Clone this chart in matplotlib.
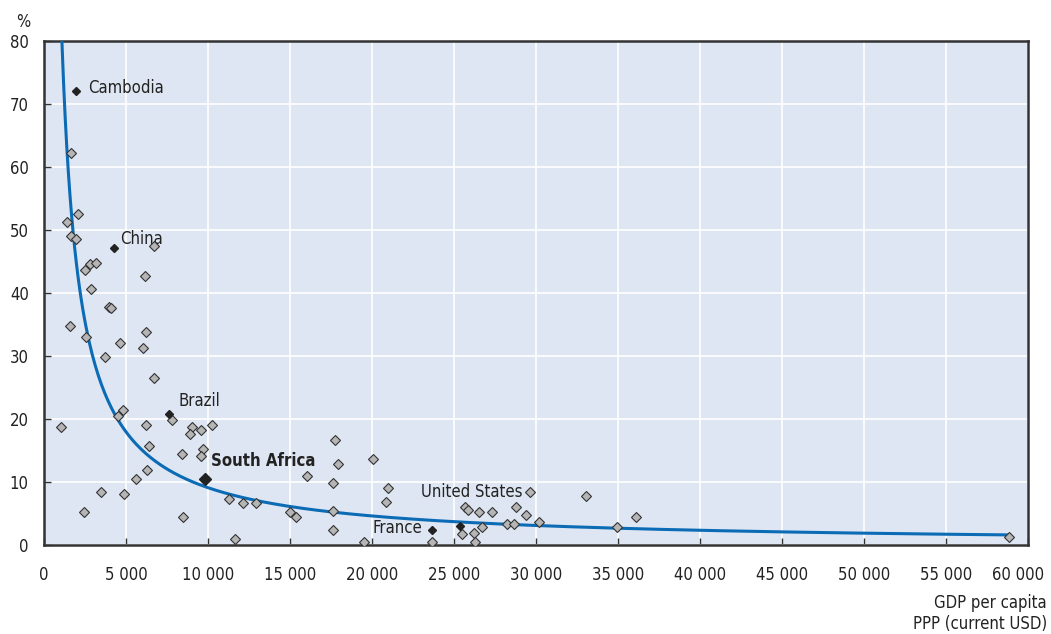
import numpy as np
import matplotlib.pyplot as plt
from matplotlib.transforms import ScaledTranslation

# GDP per capita (PPP, current USD) and share (%) for the other countries
gdp = [1640, 2090, 1393, 1640, 1967, 6690, 2517, 2780, 3147, 6160, 2884,
       3950, 4100, 1600, 2536, 6202, 4655, 6037, 3697, 6709, 7833, 4815,
       4533, 1008, 6245, 9012, 8890, 9543, 10253, 6404, 9685, 8420, 9543,
       6263, 5633, 3471, 4858, 2413, 8481, 11621, 11291, 12128, 12904,
       14982, 15367, 16039, 17731, 17914, 17609, 17627, 17645, 19540,
       20071, 20945, 20823, 23657, 25510, 25693, 25834, 26548, 26200,
       26261, 26713, 27343, 28241, 28648, 28770, 29401, 29623, 30154,
       33026, 34920, 36081, 58855]
share = [62.2, 52.6, 51.2, 49.1, 48.6, 47.4, 43.7, 44.6, 44.7, 42.7, 40.7,
         37.8, 37.6, 34.7, 33.0, 33.8, 32.1, 31.3, 29.8, 26.5, 19.9, 21.4,
         20.4, 18.8, 19.0, 18.7, 17.6, 18.2, 19.1, 15.7, 15.2, 14.5, 14.1,
         11.9, 10.4, 8.4, 8.1, 5.2, 4.4, 0.9, 7.3, 6.7, 6.7,
         5.2, 4.4, 10.9, 16.7, 12.9, 9.9, 5.4, 2.3, 0.4,
         13.6, 9.1, 6.8, 0.5, 1.7, 6.1, 5.6, 5.3, 1.85,
         0.5, 2.9, 5.2, 3.4, 3.4, 6.1, 4.7, 8.4, 3.6,
         7.75, 2.9, 4.5, 1.3]

# highlighted countries
hl_names = ['Cambodia', 'China', 'Brazil', 'United States', 'France']
hl_gdp = [1967, 4247, 7607, 25345, 23634]
hl_share = [72.1, 47.1, 20.8, 3.0, 2.4]
sa_gdp = 9787
sa_share = 10.5

# power trend line y = a * x^-b
trend_a = 76350
trend_b = 0.981
trend_start = 1000
trend_end = 58855

xtick_vals = list(range(0, 60001, 5000))
xtick_labels = [f'{v:,}'.replace(',', ' ') for v in xtick_vals]
ytick_vals = list(range(0, 81, 10))

plt.rcParams['font.family'] = ['DejaVu Sans']
plt.rcParams['font.stretch'] = 'condensed'
fs = 12
txt = '#222222'

fig = plt.figure(figsize=(10.51, 6.34), dpi=100)
ax = fig.add_axes([0.0419, 0.1404, 0.9362, 0.7949])
ax.set_facecolor('#dfe6f3')

ax.set_xlim(0, 60000)
ax.set_ylim(0, 80)
ax.set_xticks(xtick_vals)
ax.set_yticks(ytick_vals)
ax.set_xticklabels(xtick_labels)
ax.grid(True, color='white', linewidth=1.2)
ax.set_axisbelow(True)

for s in ax.spines.values():
    s.set_color('#333333')
    s.set_linewidth(1.8)
ax.tick_params(axis='both', direction='in', length=5, width=1, color='#333333',
               labelcolor=txt, labelsize=fs)
ax.tick_params(axis='x', pad=15)
ax.tick_params(axis='y', pad=11)

# last x label is pulled in so it stays inside the figure
last = ax.get_xticklabels()[-1]
last.set_transform(last.get_transform() + ScaledTranslation(-10 / 100, 0, fig.dpi_scale_trans))

xs = np.linspace(trend_start, trend_end, 600)
ax.plot(xs, trend_a * xs ** (-trend_b), color='#0b6bb5', linewidth=2.2, zorder=3)

ax.plot(gdp, share, linestyle='none', marker='D', markersize=4.6,
        markerfacecolor='#b5b5b5', markeredgecolor='#333333',
        markeredgewidth=0.8, zorder=4)
ax.plot(hl_gdp, hl_share, linestyle='none', marker='D', markersize=4.4,
        markerfacecolor='#222222', markeredgecolor='#222222', zorder=5)
ax.plot([sa_gdp], [sa_share], linestyle='none', marker='D', markersize=6.5,
        markerfacecolor='#222222', markeredgecolor='#222222', zorder=5)

offsets = {'Cambodia': (8.5, 2, 'left'), 'China': (4.5, 6.5, 'left'),
           'Brazil': (7, 9.5, 'left'), 'United States': (8.5, 24.5, 'center'),
           'France': (-6.5, 1.4, 'right')}
for name, gx, gy in zip(hl_names, hl_gdp, hl_share):
    dx, dy, ha = offsets[name]
    ax.annotate(name, (gx, gy), xytext=(dx, dy), textcoords='offset points',
                ha=ha, va='center', color=txt, fontsize=fs)
ax.annotate('South Africa', (sa_gdp, sa_share), xytext=(5, 13),
            textcoords='offset points', ha='left', va='center', color=txt,
            fontsize=fs, fontweight='bold')

fig.text(0.022, 0.965, '%', ha='center', va='center', color=txt, fontsize=fs)
fig.text(0.996, 0.049, 'GDP per capita', ha='right', va='center', color=txt, fontsize=fs)
fig.text(0.996, 0.016, 'PPP (current USD)', ha='right', va='center', color=txt, fontsize=fs)

fig.savefig('out.png', dpi=100)
